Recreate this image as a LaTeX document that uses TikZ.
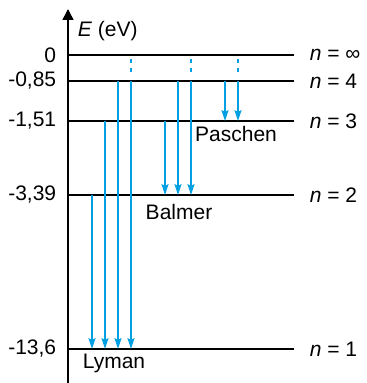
\documentclass[tikz,border=0pt]{standalone}
\usepackage{fontspec}
\setmainfont{Liberation Sans}
\usetikzlibrary{arrows.meta}
\definecolor{spec}{RGB}{0,160,227}
\begin{document}
\begin{tikzpicture}[x=0.6pt,y=-0.6pt,every node/.style={inner sep=1.5pt,font=\fontsize{12.6}{15}\selectfont},
    level/.style={line width=0.8pt},
    trans/.style={spec,line width=0.8pt,-{Stealth[length=6.5pt,width=4.2pt,inset=1pt]}},
    farpart/.style={spec,line width=0.8pt,dash pattern=on 2.2pt off 3.2pt}]
    \useasboundingbox (0,0) rectangle (366,383);
    % energy axis
    \coordinate (ax0) at (68,383);
    \coordinate (ax1) at (68,9);
    \draw[line width=0.9pt,-{Triangle[length=6.6pt,width=6.6pt]}] (ax0) -- (ax1);
    \node[anchor=west] (elab) at (75,31) {\textit{E} (eV)};
    % levels
    \foreach \name/\y/\val/\n in {lvinf/55/0/∞, lv4/81/{-0,85}/4, lv3/121/{-1,51}/3, lv2/195/{-3,39}/2, lv1/349/{-13,6}/1}{
        \coordinate (\name) at (68,\y);
        \coordinate (\name e) at (294,\y);
        \draw[level] (\name) -- (\name e);
        \node[anchor=east] (\name v) at (59,\y) {\val};
        \node[anchor=west] (\name n) at (307,\y) {\textit{n} = \n};
    }
    % columns
    \coordinate (c1) at (92,0);
    \coordinate (c2) at (105,0);
    \coordinate (c3) at (118,0);
    \coordinate (c4) at (131,0);
    \coordinate (c5) at (165,0);
    \coordinate (c6) at (178,0);
    \coordinate (c7) at (191,0);
    \coordinate (c8) at (225,0);
    \coordinate (c9) at (238,0);
    % Lyman
    \draw[trans] (c1 |- lv2) -- (c1 |- lv1);
    \draw[trans] (c2 |- lv3) -- (c2 |- lv1);
    \draw[trans] (c3 |- lv4) -- (c3 |- lv1);
    \draw[trans] (c4 |- lv4) -- (c4 |- lv1);
    % Balmer
    \draw[trans] (c5 |- lv3) -- (c5 |- lv2);
    \draw[trans] (c6 |- lv4) -- (c6 |- lv2);
    \draw[trans] (c7 |- lv4) -- (c7 |- lv2);
    % Paschen
    \draw[trans] (c8 |- lv4) -- (c8 |- lv3);
    \draw[trans] (c9 |- lv4) -- (c9 |- lv3);
    % from infinity
    \foreach \c in {c4,c7,c9}
        \draw[farpart] ([yshift=-2.4pt]\c |- lvinf) -- ([yshift=5pt]\c |- lv4);
    \node (lyman) at (114,363) {Lyman};
    \node (balmer) at (179,212) {Balmer};
    \node (paschen) at (236,134) {Paschen};
\end{tikzpicture}
\end{document}
